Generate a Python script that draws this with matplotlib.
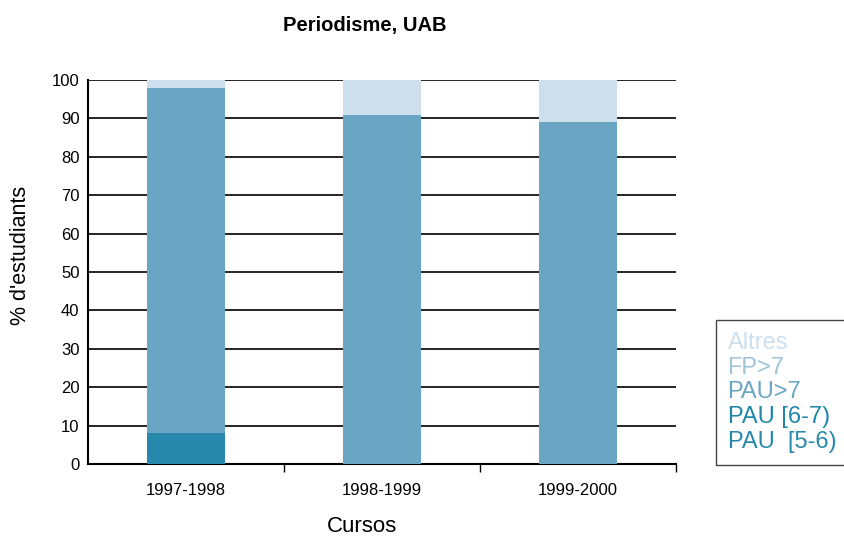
import numpy as np
import matplotlib.pyplot as plt

# Stacked shares of students by access route, Periodisme UAB
courses = ["1997-1998", "1998-1999", "1999-2000"]
labels = ["PAU  [5-6)", "PAU [6-7)", "PAU>7", "FP>7", "Altres"]
pau_5_6 = [8, 0, 0]
pau_6_7 = [0, 0, 0]
pau_7 = [90, 91, 89]
fp_7 = [0, 0, 0]
altres = [2, 9, 11]
colors = ["#2788ab", "#1f86a9", "#6aa5c4", "#9fc4da", "#cddfed"]

plt.rcParams['font.family'] = ['Liberation Sans', 'DejaVu Sans']

fig = plt.figure(figsize=(8.45, 5.44), dpi=100)
ax = fig.add_axes([0.104, 0.147, 0.696, 0.706])

x = np.arange(len(courses))
bottom = np.zeros(len(courses))
bars = []
for vals, lab, col in zip([pau_5_6, pau_6_7, pau_7, fp_7, altres], labels, colors):
    b = ax.bar(x, vals, 0.4, bottom=bottom, color=col, label=lab, zorder=3)
    bars.append(b)
    bottom += np.array(vals)

ax.set_xlim(-0.5, 2.5)
ax.set_ylim(0, 100)
ax.set_yticks(range(0, 101, 10))
ax.yaxis.grid(True, color="black", linewidth=1.2, zorder=0)
ax.set_axisbelow(True)
ax.set_xticks(x)
ax.set_xticklabels(courses, fontsize=12)
ax.set_xticks([0.5, 1.5, 2.5], minor=True)
ax.tick_params(axis="x", which="major", length=0, pad=14)
ax.tick_params(axis="x", which="minor", length=6, width=1, direction="out")
ax.tick_params(axis="y", length=0, pad=6, labelsize=12)
for s in ["top", "right"]:
    ax.spines[s].set_visible(False)
ax.spines["left"].set_linewidth(1.5)
ax.spines["bottom"].set_linewidth(1.5)

fig.text(0.432, 0.953, "Periodisme, UAB", ha="center", va="center",
         fontsize=14.5, fontweight="bold")
fig.text(0.428, 0.012, "Cursos", ha="center", va="bottom", fontsize=16)
fig.text(0.024, 0.53, "% d'estudiants", ha="center", va="center", rotation=90, fontsize=15.5)

leg = fig.legend(bars[::-1], labels[::-1], loc="upper left",
                 bbox_to_anchor=(0.847, 0.412), handlelength=0, handletextpad=0,
                 fancybox=False, edgecolor="#444444", framealpha=1,
                 fontsize=17, labelspacing=0.12, borderpad=0.5, borderaxespad=0)
for h in leg.legend_handles:
    h.set_visible(False)
for txt, col in zip(leg.get_texts(), colors[::-1]):
    txt.set_color(col)
leg.get_frame().set_linewidth(1.0)

fig.savefig("out.png", dpi=100)
